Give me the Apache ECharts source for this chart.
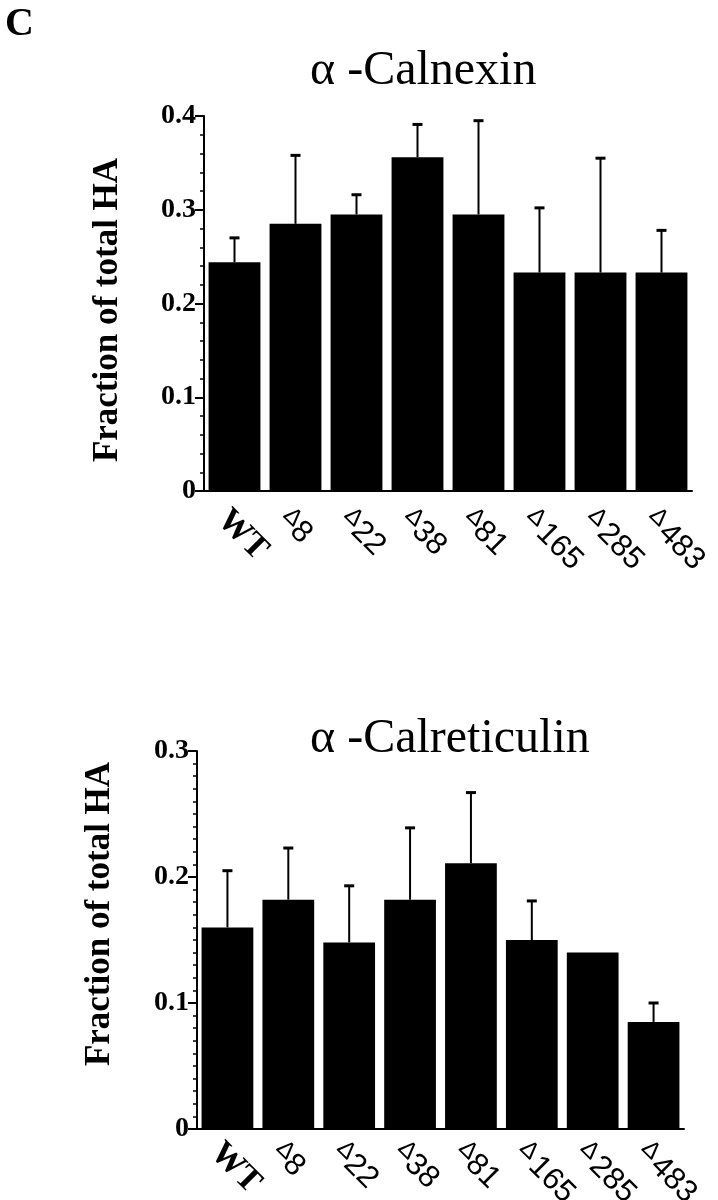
<!DOCTYPE html>
<html>
<head>
<meta charset="utf-8">
<script src="https://cdn.jsdelivr.net/npm/echarts@6/dist/echarts.min.js"></script>
<style>
  html, body { margin: 0; padding: 0; background: #fff; }
  #chart { width: 718px; height: 1200px; }
</style>
</head>
<body>
<div id="chart"></div>
<script>
// ---- data ----
const categories = ['WT', 'Δ8', 'Δ22', 'Δ38', 'Δ81', 'Δ165', 'Δ285', 'Δ483'];
const calnexinMean = [0.244, 0.285, 0.295, 0.356, 0.295, 0.233, 0.233, 0.233];
const calnexinUpper = [0.270, 0.358, 0.316, 0.391, 0.395, 0.302, 0.355, 0.278];
const calreticulinMean = [0.160, 0.182, 0.148, 0.182, 0.211, 0.150, 0.140, 0.085];
const calreticulinUpper = [0.205, 0.223, 0.193, 0.239, 0.267, 0.181, null, 0.100];
const calnexinTicks = [0, 0.1, 0.2, 0.3, 0.4];
const calreticulinTicks = [0, 0.1, 0.2, 0.3];

const SERIF = '"Liberation Serif", "DejaVu Serif", serif';
const SANS = '"Liberation Sans", Arial, sans-serif';

function labelFormatter(v) {
  if (v === 'WT') return '{w|WT}';
  const num = v.slice(1);
  return (num.length === 3 ? '{dw|Δ}' : '{d|Δ}') + '{n|' + num + '}';
}

function xAxisCfg(gridIndex, margin) {
  return {
    type: 'category', gridIndex, data: categories,
    axisLine: { show: true, lineStyle: { color: '#000', width: 2 } },
    axisTick: { show: false },
    axisLabel: {
      interval: 0, rotate: -45, margin, hideOverlap: false, verticalAlign: 'top',
      formatter: labelFormatter,
      rich: {
        w: { fontFamily: SERIF, fontWeight: 'bold', fontSize: 34, color: '#000', lineHeight: 34 },
        d: { fontFamily: SANS, fontSize: 24, color: '#000', verticalAlign: 'top', lineHeight: 34 },
        dw: { fontFamily: SANS, fontSize: 24, color: '#000', verticalAlign: 'top', lineHeight: 34, padding: [0, 3, 0, 0] },
        n: { fontFamily: SANS, fontSize: 31, color: '#000', lineHeight: 34 }
      }
    }
  };
}

function yAxisCfg(gridIndex, max, split, ticks) {
  return {
    type: 'value', gridIndex, min: 0, max, interval: 0.1,
    axisLine: { show: true, lineStyle: { color: '#000', width: 2 } },
    axisTick: { show: true, length: 9, lineStyle: { color: '#000', width: 2 } },
    minorTick: { show: true, splitNumber: split, length: 4, lineStyle: { color: '#000', width: 1.5 } },
    splitLine: { show: false },
    axisLabel: {
      margin: 8, fontFamily: SERIF, fontWeight: 'bold', fontSize: 28, color: '#000',
      formatter: v => {
        const t = ticks.find(x => Math.abs(x - v) < 1e-9);
        return t === undefined ? '' : (t === 0 ? '0' : String(t));
      }
    }
  };
}

function errorSeries(idx, means, uppers) {
  return {
    type: 'custom', xAxisIndex: idx, yAxisIndex: idx, z: 5,
    data: means.map((m, i) => [i, m, uppers[i]]).filter(d => d[2] !== null),
    renderItem: (params, api) => {
      const base = api.coord([api.value(0), api.value(1)]);
      const top = api.coord([api.value(0), api.value(2)]);
      const cap = 5;
      return {
        type: 'group',
        children: [
          { type: 'line', shape: { x1: base[0], y1: base[1], x2: top[0], y2: top[1] }, style: { stroke: '#000', lineWidth: 2 } },
          { type: 'line', shape: { x1: top[0] - cap, y1: top[1], x2: top[0] + cap, y2: top[1] }, style: { stroke: '#000', lineWidth: 3 } }
        ]
      };
    }
  };
}

const chart = echarts.init(document.getElementById('chart'), null, { renderer: 'canvas' });
chart.setOption({
  backgroundColor: '#fff',
  animation: false,
  title: [
    { text: 'α -Calnexin', left: 305, top: 42, textStyle: { fontFamily: SERIF, fontWeight: 'normal', fontSize: 48, color: '#000' } },
    { text: 'α -Calreticulin', left: 305, top: 710, textStyle: { fontFamily: SERIF, fontWeight: 'normal', fontSize: 48, color: '#000' } }
  ],
  graphic: [
    { type: 'text', left: 5, top: 5, style: { text: 'C', font: 'bold 40px ' + SERIF, fill: '#000' } },
    { type: 'text', x: 108, y: 310, rotation: Math.PI / 2, style: { text: 'Fraction of total HA', font: 'bold 35px ' + SERIF, fill: '#000', textAlign: 'center', textVerticalAlign: 'middle' } },
    { type: 'text', x: 100, y: 914, rotation: Math.PI / 2, style: { text: 'Fraction of total HA', font: 'bold 35px ' + SERIF, fill: '#000', textAlign: 'center', textVerticalAlign: 'middle' } }
  ],
  grid: [
    { left: 204, top: 116, width: 488, height: 375, containLabel: false, outerBoundsMode: 'none' },
    { left: 197, top: 751, width: 487, height: 378, containLabel: false, outerBoundsMode: 'none' }
  ],
  xAxis: [xAxisCfg(0, 12), xAxisCfg(1, 7)],
  yAxis: [yAxisCfg(0, 0.4, 5, calnexinTicks), yAxisCfg(1, 0.3, 10, calreticulinTicks)],
  series: [
    { type: 'bar', xAxisIndex: 0, yAxisIndex: 0, data: calnexinMean, barCategoryGap: '15%', itemStyle: { color: '#000' } },
    errorSeries(0, calnexinMean, calnexinUpper),
    { type: 'bar', xAxisIndex: 1, yAxisIndex: 1, data: calreticulinMean, barCategoryGap: '15%', itemStyle: { color: '#000' } },
    errorSeries(1, calreticulinMean, calreticulinUpper)
  ]
});
</script>
</body>
</html>
